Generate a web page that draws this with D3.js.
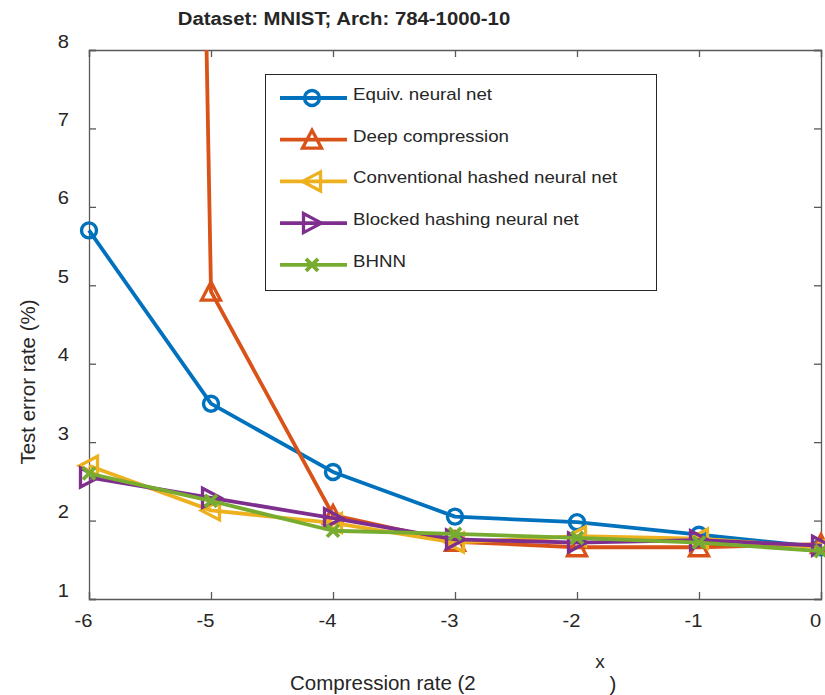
<!DOCTYPE html>
<html>
<head>
<meta charset="utf-8">
<script src="https://cdn.jsdelivr.net/npm/d3@7/dist/d3.min.js"></script>
<style>
  body { margin: 0; background: #fff; }
  text { font-family: "Liberation Sans", Arial, sans-serif; fill: #262626; }
</style>
</head>
<body>
<svg id="chart" width="825" height="695"></svg>
<script>
"use strict";

// compression exponents (x axis)
const xs = [-6, -5, -4, -3, -2, -1, 0];

// test error rate (%) per method
const equivNet = [5.70, 3.49, 2.62, 2.05, 1.98, 1.82, 1.66];
const deepCompression = [90, 4.92, 2.07, 1.73, 1.66, 1.66, 1.70];
const conventionalHashed = [2.70, 2.13, 1.97, 1.72, 1.80, 1.77, 1.66];
const blockedHashing = [2.55, 2.29, 2.03, 1.76, 1.72, 1.75, 1.68];
const bhnn = [2.60, 2.25, 1.87, 1.83, 1.78, 1.72, 1.61];

const seriesNames = [
  "Equiv. neural net",
  "Deep compression",
  "Conventional hashed neural net",
  "Blocked hashing neural net",
  "BHNN"
];
const seriesValues = [equivNet, deepCompression, conventionalHashed, blockedHashing, bhnn];
const seriesColors = ["#0072BD", "#D95319", "#EDB120", "#7E2F8E", "#77AC30"];
const seriesMarkers = ["circle", "up", "left", "right", "cross"];

const xTicks = [-6, -5, -4, -3, -2, -1, 0];
const yTicks = [1, 2, 3, 4, 5, 6, 7, 8];

const svg = d3.select("#chart");

// plot box
const pLeft = 89, pRight = 821, pTop = 50, pBottom = 599;

const x = d3.scaleLinear().domain([-6, 0]).range([pLeft, pRight]);
const y = d3.scaleLinear().domain([1, 8]).range([pBottom, pTop]);

const axisColor = "#595959";
// text in the original is a bit wider than Liberation Sans
const stretch = 1.12;

// clip for the lines (deep compression runs off the top)
svg.append("defs").append("clipPath").attr("id", "plotClip")
  .append("rect")
  .attr("x", pLeft - 15).attr("y", pTop)
  .attr("width", pRight - pLeft + 30).attr("height", pBottom - pTop + 15);

// axes with inward ticks on all four sides
const tickLen = 7;
const fmt = function(d) { return String(d); };
const gx = svg.append("g").attr("transform", "translate(0," + pBottom + ")")
  .call(d3.axisBottom(x).tickValues(xTicks).tickSize(-tickLen).tickFormat(fmt));
const gxTop = svg.append("g").attr("transform", "translate(0," + pTop + ")")
  .call(d3.axisTop(x).tickValues(xTicks).tickSize(-tickLen).tickFormat(""));
const gy = svg.append("g").attr("transform", "translate(" + pLeft + ",0)")
  .call(d3.axisLeft(y).tickValues(yTicks).tickSize(-tickLen).tickFormat(fmt));
const gyRight = svg.append("g").attr("transform", "translate(" + pRight + ",0)")
  .call(d3.axisRight(y).tickValues(yTicks).tickSize(-tickLen).tickFormat(""));

[gx, gxTop, gy, gyRight].forEach(function(g) {
  g.selectAll("path.domain").attr("stroke", axisColor).attr("stroke-width", 1.3);
  g.selectAll(".tick line").attr("stroke", axisColor).attr("stroke-width", 1.3);
  g.selectAll(".tick text")
    .style("font-family", "'Liberation Sans', Arial, sans-serif")
    .style("font-size", "18px")
    .attr("fill", "#262626")
    .attr("transform", "scale(" + stretch + ",1)");
});
gx.selectAll(".tick text").attr("x", -6 / stretch).attr("y", 28).attr("dy", 0);
gy.selectAll(".tick text").attr("x", -20 / stretch).attr("dy", -3).attr("y", 0)
  .attr("dominant-baseline", "auto");

// marker shapes
function drawMarker(g, kind, cx, cy, color) {
  if (kind === "circle") {
    g.append("circle").attr("cx", cx).attr("cy", cy).attr("r", 7.5)
      .attr("fill", "none").attr("stroke", color).attr("stroke-width", 3.4);
  } else if (kind === "cross") {
    const s = 6;
    g.append("path")
      .attr("d", "M" + (cx - s) + "," + (cy - s) + "L" + (cx + s) + "," + (cy + s) +
        "M" + (cx - s) + "," + (cy + s) + "L" + (cx + s) + "," + (cy - s))
      .attr("stroke", color).attr("stroke-width", 3.8).attr("fill", "none");
  } else {
    const a = 9.5, b = 8.5;
    let pts;
    if (kind === "up") pts = [[cx, cy - a], [cx + a, cy + b], [cx - a, cy + b]];
    else if (kind === "left") pts = [[cx - a, cy], [cx + b, cy - a], [cx + b, cy + a]];
    else pts = [[cx + a, cy], [cx - b, cy - a], [cx - b, cy + a]];
    g.append("path").attr("d", "M" + pts.map(function(p) { return p.join(","); }).join("L") + "Z")
      .attr("fill", "none").attr("stroke", color).attr("stroke-width", 3.3)
      .attr("stroke-linejoin", "miter");
  }
}

const line = d3.line().x(function(d) { return x(d[0]); }).y(function(d) { return y(d[1]); });

const plot = svg.append("g").attr("clip-path", "url(#plotClip)");
seriesValues.forEach(function(vals, i) {
  const pts = xs.map(function(xv, j) { return [xv, vals[j]]; });
  const g = plot.append("g");
  g.append("path").datum(pts).attr("d", line)
    .attr("fill", "none").attr("stroke", seriesColors[i]).attr("stroke-width", 3.8)
    .attr("stroke-linejoin", "round");
  pts.forEach(function(p) {
    if (p[1] <= 8) drawMarker(g, seriesMarkers[i], x(p[0]), y(p[1]), seriesColors[i]);
  });
});

// stretched text helper
function addText(px, py, str, size, opts) {
  opts = opts || {};
  const sx = opts.sx || 1;
  const g = svg.append("g").attr("transform", "translate(" + px + "," + py + ")" +
    (opts.rotate ? " rotate(" + opts.rotate + ")" : "") + " scale(" + sx + ",1)");
  const t = g.append("text").attr("x", 0).attr("y", 0)
    .attr("text-anchor", opts.anchor || "start")
    .style("font-size", size + "px").text(str);
  if (opts.bold) t.style("font-weight", "bold").attr("fill", "#000");
  return t;
}

// legend
svg.append("rect").attr("x", 265.5).attr("y", 74.5).attr("width", 391).attr("height", 216)
  .attr("fill", "#fff").attr("stroke", "#262626").attr("stroke-width", 1);
const legend = svg.append("g");
seriesNames.forEach(function(name, i) {
  const ly = 98 + i * 41.7;
  legend.append("line").attr("x1", 280).attr("x2", 347).attr("y1", ly).attr("y2", ly)
    .attr("stroke", seriesColors[i]).attr("stroke-width", 3.8);
  drawMarker(legend, seriesMarkers[i], 312, ly, seriesColors[i]);
  addText(353, ly + 2, name, 16, { sx: 1.17 });
});

// title and labels
addText(344, 25, "Dataset: MNIST; Arch: 784-1000-10", 18, { sx: 1.13, anchor: "middle", bold: true });

addText(35, 382, "Test error rate (%)", 20.5, { rotate: -90, anchor: "middle" });

addText(290, 690, "Compression rate (2", 20.5);
addText(600, 668, "x", 19, { anchor: "middle" });
addText(613, 691, ")", 20.5, { anchor: "middle" });
</script>
</body>
</html>
